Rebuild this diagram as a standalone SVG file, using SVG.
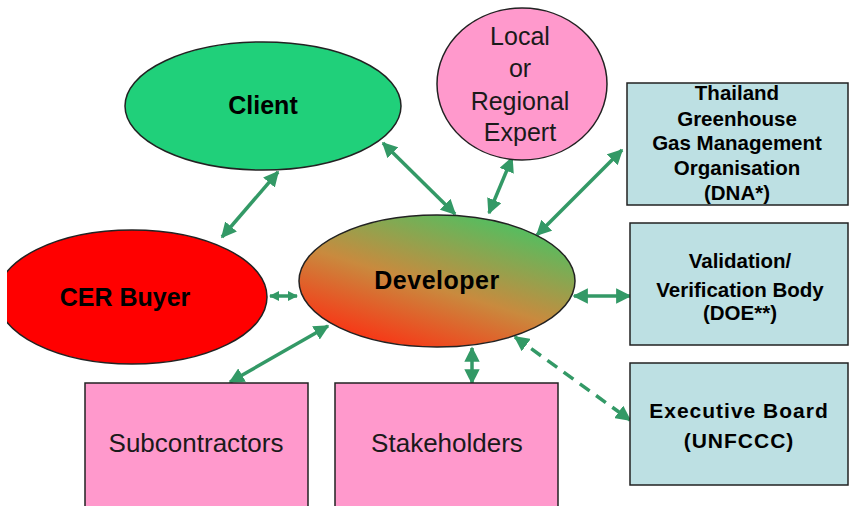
<svg xmlns="http://www.w3.org/2000/svg" width="851" height="506" viewBox="0 0 851 506">
<style>
.ol{stroke:#222;stroke-width:1.5}
.bt{font-family:"Liberation Sans",Arial,sans-serif;font-weight:bold;fill:#000;text-anchor:middle}
.rt{font-family:"Liberation Sans",Arial,sans-serif;fill:#1a1a1a;text-anchor:middle}
.c{stroke:#339966;stroke-width:3.5;fill:none;marker-start:url(#ah);marker-end:url(#ah)}
.cs{marker-start:url(#ahs);marker-end:url(#ahs)}
.dash{stroke-dasharray:12 8}
</style>
<defs>
<marker id="ah" viewBox="0 0 10 10" refX="9" refY="5" markerWidth="4.4" markerHeight="4.4" orient="auto-start-reverse" markerUnits="strokeWidth">
<path d="M0,0 L10,5 L0,10 Z" fill="#339966"/>
</marker>
<marker id="ahs" viewBox="0 0 10 10" refX="9" refY="5" markerWidth="3" markerHeight="3.6" orient="auto-start-reverse" markerUnits="strokeWidth">
<path d="M0,0 L10,5 L0,10 Z" fill="#339966"/>
</marker>
<linearGradient id="dg" x1="0.2" y1="1" x2="0.85" y2="0">
<stop offset="0" stop-color="#ff2a10"/>
<stop offset="0.45" stop-color="#c98a3e"/>
<stop offset="1" stop-color="#3fc766"/>
</linearGradient>
<clipPath id="clip"><rect x="7" y="0" width="844" height="506"/></clipPath>
</defs>
<rect width="851" height="506" fill="#fff"/>
<g id="connectors">
<line class="c" x1="278" y1="172" x2="222" y2="237"/>
<line class="c" x1="383" y1="143" x2="455" y2="214"/>
<line class="c" x1="512" y1="158" x2="489" y2="213"/>
<line class="c" x1="622" y1="150" x2="537" y2="235"/>
<line class="c cs" x1="270" y1="296" x2="297" y2="296"/>
<line class="c" x1="574" y1="296" x2="630" y2="296"/>
<line class="c" x1="328" y1="326" x2="230" y2="382"/>
<line class="c" x1="472" y1="348" x2="472" y2="383"/>
<line class="c dash" x1="515" y1="337" x2="630" y2="420"/>
</g>
<g id="client">
<ellipse cx="263" cy="106" rx="138" ry="64" fill="#20d07a" class="ol"/>
<text class="bt" x="263" y="114" font-size="25">Client</text>
</g>
<g id="cer-buyer" clip-path="url(#clip)">
<ellipse cx="132" cy="297" rx="135" ry="67" fill="#ff0000" class="ol"/>
<text class="bt" x="125" y="306" font-size="25">CER Buyer</text>
</g>
<g id="developer">
<ellipse cx="437" cy="281" rx="138" ry="66" fill="url(#dg)" class="ol"/>
<text class="bt" x="437" y="289" font-size="25" letter-spacing="0.5">Developer</text>
</g>
<g id="expert">
<ellipse cx="522" cy="84" rx="85" ry="76" fill="#ff99cc" class="ol"/>
<text class="rt" x="520" y="45" font-size="25">Local</text>
<text class="rt" x="520" y="77" font-size="25">or</text>
<text class="rt" x="520" y="110" font-size="25">Regional</text>
<text class="rt" x="520" y="141" font-size="25">Expert</text>
</g>
<g id="dna">
<rect x="627" y="83" width="221" height="122" fill="#bde0e3" class="ol"/>
<text class="bt" x="737" y="100" font-size="20.5">Thailand</text>
<text class="bt" x="737" y="126" font-size="20.5">Greenhouse</text>
<text class="bt" x="737" y="150" font-size="20.5">Gas Management</text>
<text class="bt" x="737" y="175" font-size="20.5">Organisation</text>
<text class="bt" x="737" y="200" font-size="20.5">(DNA*)</text>
</g>
<g id="doe">
<rect x="630" y="223" width="218" height="122" fill="#bde0e3" class="ol"/>
<text class="bt" x="740" y="268" font-size="20.5">Validation/</text>
<text class="bt" x="740" y="297" font-size="20.5">Verification Body</text>
<text class="bt" x="740" y="320" font-size="20.5">(DOE**)</text>
</g>
<g id="eb">
<rect x="630" y="363" width="218" height="122" fill="#bde0e3" class="ol"/>
<text class="bt" x="739" y="418" font-size="21" letter-spacing="1">Executive Board</text>
<text class="bt" x="739" y="448" font-size="21" letter-spacing="1">(UNFCCC)</text>
</g>
<g id="subcontractors">
<rect x="85" y="383" width="223" height="130" fill="#ff99cc" class="ol"/>
<text class="rt" x="196" y="452" font-size="26">Subcontractors</text>
</g>
<g id="stakeholders">
<rect x="335" y="383" width="223" height="130" fill="#ff99cc" class="ol"/>
<text class="rt" x="447" y="452" font-size="26">Stakeholders</text>
</g>
</svg>
